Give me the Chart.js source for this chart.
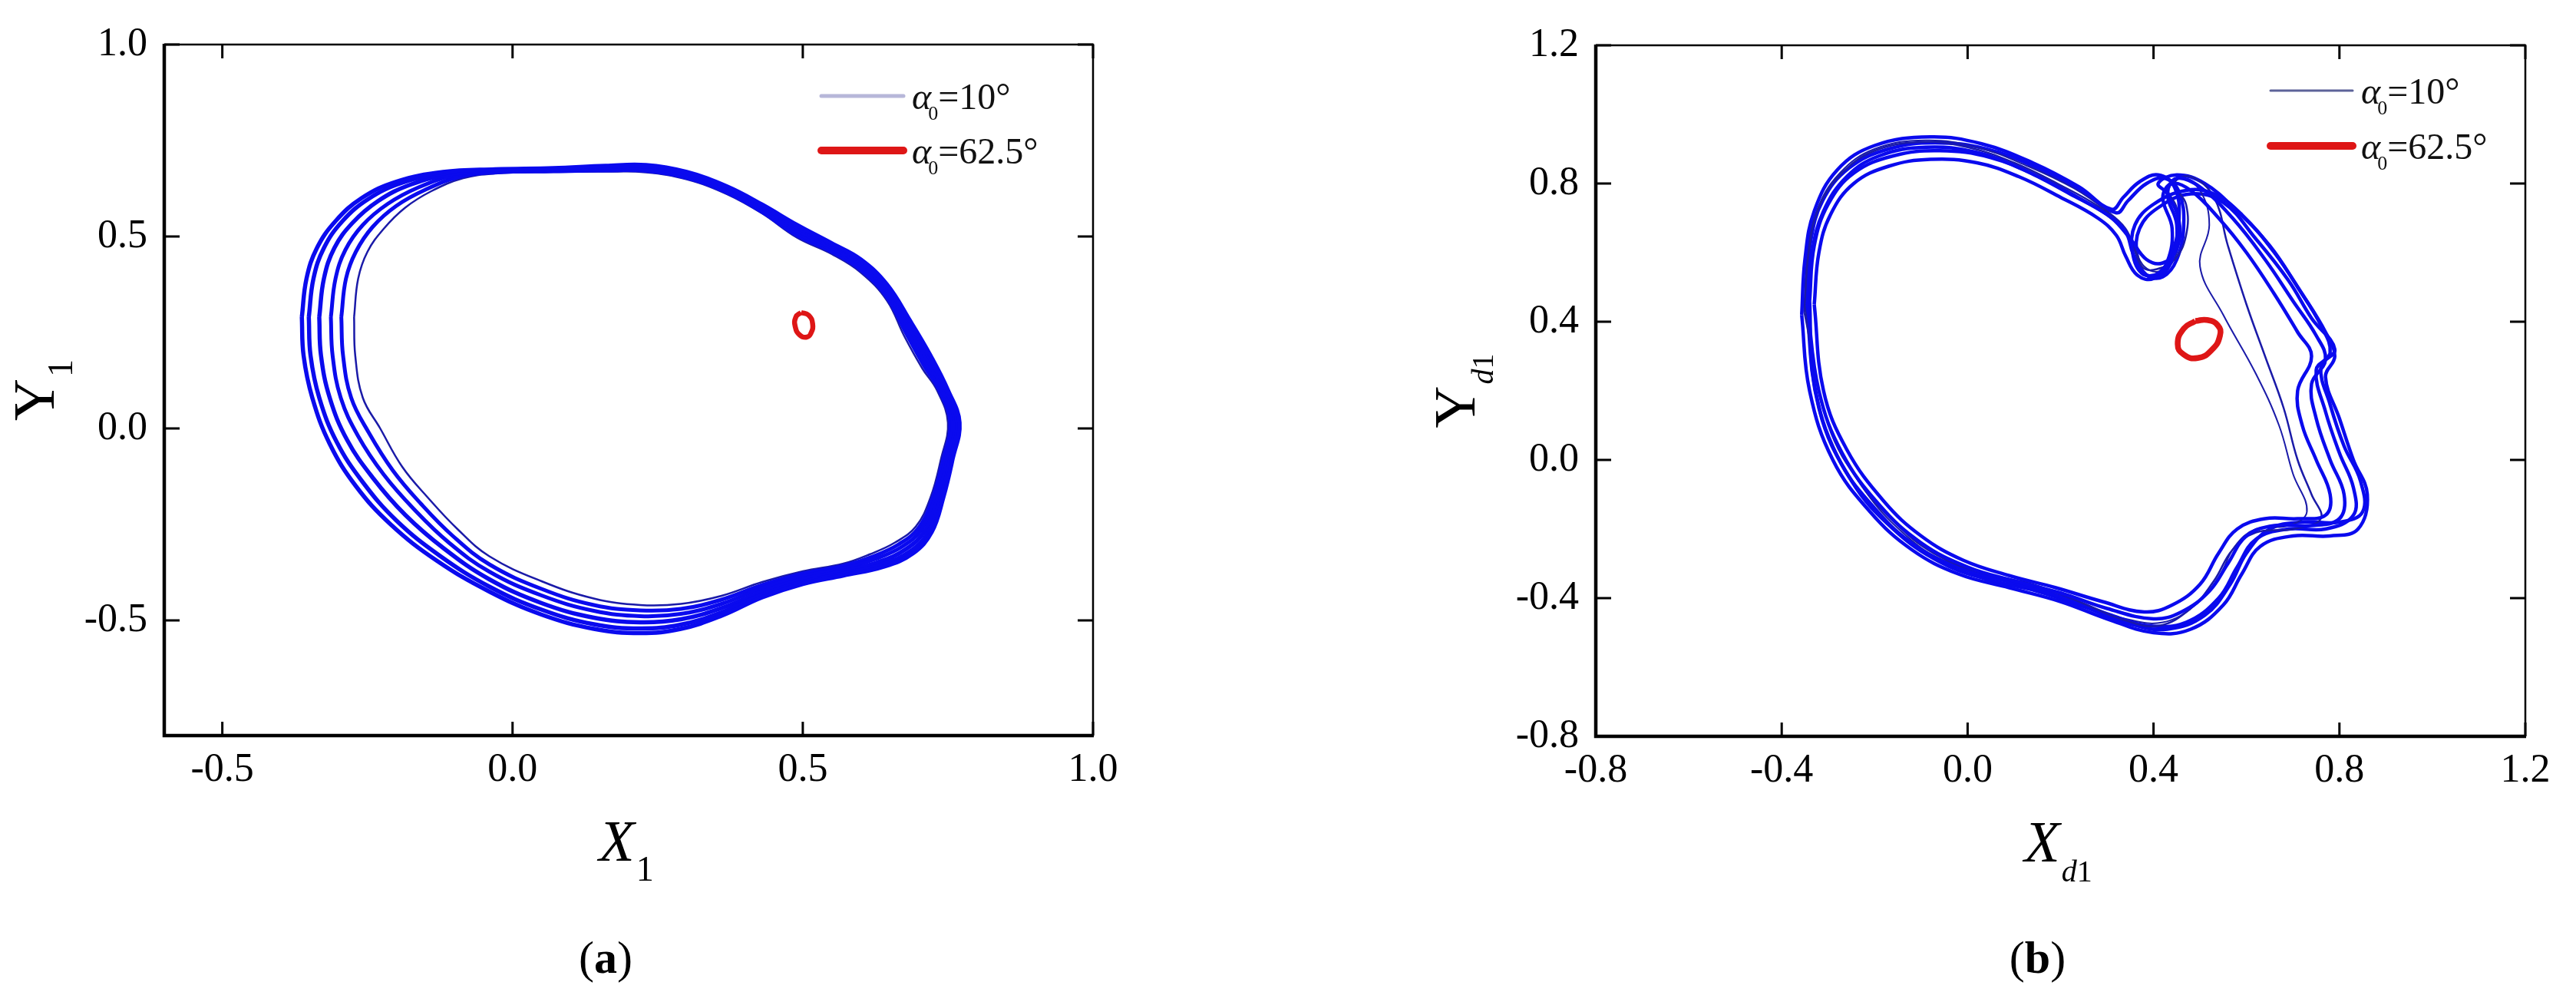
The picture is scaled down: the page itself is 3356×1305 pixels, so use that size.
<!DOCTYPE html>
<html>
<head>
<meta charset="utf-8">
<script src="https://cdn.jsdelivr.net/npm/chart.js@4.4.1/dist/chart.umd.min.js"></script>
<style>
  body { margin: 0; background: #fff; }
  #wrap { position: relative; width: 3356px; height: 1305px; }
  canvas { position: absolute; top: 0; }
  #chartA { left: 0; }
  #chartB { left: 1680px; }
</style>
</head>
<body>
<div id="wrap">
  <canvas id="chartA" width="1680" height="1305"></canvas>
  <canvas id="chartB" width="1676" height="1305"></canvas>
</div>
<script>
// ---- panel (a): X1 / Y1 ----
const ticksAx = [-0.5, 0.0, 0.5, 1.0];
const ticksAy = [-0.5, 0.0, 0.5, 1.0];

// alpha0 = 10 deg, loops (outer -> inner)
const a10Loop1 = [[-0.363,0.29],[-0.355,0.39],[-0.337,0.47],[-0.305,0.54],[-0.26,0.6],[-0.2,0.643],[-0.12,0.668],[-0.03,0.675],[0.07,0.678],[0.16,0.684],[0.23,0.686],[0.3,0.668],[0.37,0.63],[0.43,0.583],[0.49,0.53],[0.55,0.482],[0.6,0.44],[0.645,0.375],[0.685,0.28],[0.72,0.19],[0.75,0.1],[0.77,0.015],[0.758,-0.08],[0.742,-0.18],[0.722,-0.27],[0.69,-0.325],[0.64,-0.36],[0.57,-0.383],[0.5,-0.405],[0.43,-0.44],[0.36,-0.488],[0.29,-0.522],[0.22,-0.533],[0.14,-0.522],[0.05,-0.485],[-0.04,-0.425],[-0.13,-0.345],[-0.21,-0.25],[-0.27,-0.15],[-0.315,-0.04],[-0.345,0.08],[-0.36,0.19],[-0.363,0.29]];
const a10Loop2 = [[-0.351,0.29],[-0.343,0.39],[-0.325,0.47],[-0.293,0.54],[-0.248,0.598],[-0.19,0.64],[-0.113,0.666],[-0.03,0.673],[0.07,0.676],[0.16,0.681],[0.23,0.683],[0.3,0.665],[0.37,0.627],[0.43,0.579],[0.49,0.524],[0.55,0.478],[0.6,0.435],[0.645,0.369],[0.685,0.273],[0.718,0.185],[0.747,0.1],[0.766,0.015],[0.754,-0.08],[0.738,-0.18],[0.717,-0.268],[0.685,-0.32],[0.635,-0.355],[0.57,-0.378],[0.5,-0.4],[0.43,-0.433],[0.36,-0.479],[0.29,-0.511],[0.22,-0.521],[0.14,-0.51],[0.05,-0.472],[-0.04,-0.412],[-0.125,-0.332],[-0.2,-0.24],[-0.258,-0.14],[-0.303,-0.035],[-0.333,0.08],[-0.348,0.19],[-0.351,0.29]];
const a10Loop3 = [[-0.333,0.29],[-0.325,0.39],[-0.307,0.47],[-0.276,0.535],[-0.232,0.592],[-0.176,0.635],[-0.105,0.663],[-0.03,0.671],[0.07,0.674],[0.16,0.678],[0.23,0.679],[0.3,0.661],[0.37,0.623],[0.43,0.574],[0.49,0.517],[0.55,0.472],[0.6,0.428],[0.645,0.36],[0.683,0.265],[0.715,0.178],[0.743,0.1],[0.762,0.015],[0.75,-0.08],[0.733,-0.18],[0.711,-0.265],[0.678,-0.314],[0.63,-0.348],[0.57,-0.372],[0.5,-0.393],[0.43,-0.425],[0.36,-0.468],[0.29,-0.497],[0.22,-0.505],[0.14,-0.493],[0.05,-0.455],[-0.04,-0.393],[-0.118,-0.313],[-0.185,-0.225],[-0.24,-0.13],[-0.285,-0.03],[-0.315,0.08],[-0.33,0.19],[-0.333,0.29]];
const a10Loop4 = [[-0.313,0.29],[-0.305,0.39],[-0.288,0.465],[-0.258,0.53],[-0.215,0.585],[-0.162,0.628],[-0.098,0.66],[-0.03,0.669],[0.07,0.672],[0.16,0.675],[0.23,0.675],[0.3,0.657],[0.37,0.619],[0.43,0.569],[0.49,0.51],[0.55,0.466],[0.6,0.42],[0.645,0.35],[0.68,0.256],[0.712,0.17],[0.739,0.1],[0.758,0.015],[0.746,-0.08],[0.728,-0.18],[0.705,-0.262],[0.671,-0.308],[0.625,-0.34],[0.57,-0.365],[0.5,-0.385],[0.43,-0.416],[0.36,-0.457],[0.29,-0.483],[0.22,-0.489],[0.14,-0.475],[0.05,-0.435],[-0.04,-0.373],[-0.11,-0.297],[-0.17,-0.21],[-0.222,-0.12],[-0.266,-0.02],[-0.296,0.08],[-0.31,0.19],[-0.313,0.29]];
const a10Loop5 = [[-0.295,0.29],[-0.287,0.39],[-0.27,0.46],[-0.241,0.525],[-0.2,0.58],[-0.15,0.622],[-0.09,0.656],[-0.03,0.667],[0.07,0.67],[0.16,0.672],[0.23,0.671],[0.3,0.653],[0.37,0.614],[0.43,0.564],[0.49,0.503],[0.55,0.46],[0.6,0.413],[0.645,0.342],[0.678,0.248],[0.709,0.163],[0.735,0.1],[0.754,0.015],[0.742,-0.08],[0.724,-0.18],[0.7,-0.258],[0.665,-0.302],[0.62,-0.334],[0.57,-0.358],[0.5,-0.378],[0.43,-0.408],[0.36,-0.446],[0.29,-0.47],[0.22,-0.474],[0.14,-0.46],[0.05,-0.418],[-0.04,-0.354],[-0.103,-0.28],[-0.158,-0.196],[-0.206,-0.11],[-0.248,-0.01],[-0.278,0.08],[-0.292,0.19],[-0.295,0.29]];
const a10Loop6 = [[-0.273,0.29],[-0.266,0.39],[-0.25,0.46],[-0.222,0.52],[-0.185,0.575],[-0.14,0.618],[-0.085,0.652],[-0.03,0.664],[0.07,0.668],[0.16,0.669],[0.23,0.667],[0.3,0.649],[0.37,0.61],[0.43,0.56],[0.49,0.497],[0.55,0.454],[0.6,0.406],[0.645,0.333],[0.675,0.24],[0.706,0.156],[0.731,0.1],[0.75,0.015],[0.738,-0.08],[0.72,-0.18],[0.695,-0.255],[0.659,-0.297],[0.615,-0.328],[0.57,-0.352],[0.5,-0.372],[0.43,-0.4],[0.36,-0.436],[0.29,-0.457],[0.22,-0.46],[0.14,-0.443],[0.05,-0.398],[-0.04,-0.333],[-0.095,-0.262],[-0.146,-0.18],[-0.19,-0.1],[-0.228,0.0],[-0.258,0.08],[-0.271,0.19],[-0.273,0.29]];
// alpha0 = 62.5 deg
const a62Loop = [[0.497,0.302],[0.51,0.295],[0.517,0.272],[0.514,0.248],[0.507,0.238],[0.495,0.243],[0.487,0.265],[0.488,0.29],[0.497,0.302]];

// ---- panel (b): Xd1 / Yd1 ----
const ticksB = [-0.8, -0.4, 0.0, 0.4, 0.8, 1.2];

const b10Loop1 = [[-0.345,0.45],[-0.335,0.6],[-0.31,0.72],[-0.26,0.82],[-0.19,0.88],[-0.09,0.905],[0.02,0.89],[0.12,0.84],[0.22,0.77],[0.3,0.71],[0.34,0.66],[0.355,0.6],[0.375,0.545],[0.41,0.53],[0.44,0.58],[0.45,0.68],[0.43,0.77],[0.45,0.815],[0.5,0.79],[0.57,0.7],[0.64,0.58],[0.7,0.46],[0.75,0.36],[0.77,0.29],[0.74,0.22],[0.75,0.12],[0.78,0.0],[0.81,-0.1],[0.8,-0.17],[0.74,-0.19],[0.66,-0.19],[0.6,-0.22],[0.56,-0.3],[0.52,-0.38],[0.46,-0.44],[0.4,-0.46],[0.3,-0.43],[0.2,-0.385],[0.1,-0.35],[0.0,-0.31],[-0.1,-0.24],[-0.19,-0.13],[-0.27,0.02],[-0.32,0.2],[-0.345,0.45]];
const b10Loop2 = [[-0.357,0.42],[-0.35,0.58],[-0.33,0.72],[-0.28,0.84],[-0.2,0.91],[-0.08,0.935],[0.03,0.915],[0.14,0.86],[0.24,0.79],[0.31,0.725],[0.335,0.76],[0.37,0.805],[0.41,0.825],[0.445,0.79],[0.455,0.7],[0.44,0.6],[0.41,0.54],[0.375,0.54],[0.355,0.6],[0.36,0.68],[0.4,0.74],[0.47,0.78],[0.53,0.77],[0.59,0.71],[0.66,0.6],[0.72,0.48],[0.77,0.37],[0.79,0.3],[0.77,0.24],[0.8,0.12],[0.83,0.0],[0.86,-0.1],[0.84,-0.2],[0.78,-0.22],[0.7,-0.22],[0.63,-0.25],[0.59,-0.33],[0.55,-0.42],[0.48,-0.49],[0.4,-0.5],[0.3,-0.46],[0.2,-0.41],[0.09,-0.37],[-0.02,-0.33],[-0.12,-0.26],[-0.21,-0.15],[-0.29,0.0],[-0.34,0.2],[-0.357,0.42]];
const b10Loop3 = [[-0.33,0.45],[-0.32,0.6],[-0.295,0.71],[-0.245,0.8],[-0.17,0.85],[-0.08,0.87],[0.02,0.86],[0.11,0.82],[0.2,0.76],[0.28,0.7],[0.32,0.65],[0.34,0.59],[0.365,0.535],[0.4,0.525],[0.43,0.575],[0.44,0.67],[0.42,0.76],[0.44,0.8],[0.48,0.78],[0.54,0.7],[0.6,0.6],[0.66,0.48],[0.71,0.37],[0.74,0.3],[0.71,0.2],[0.72,0.1],[0.75,0.0],[0.78,-0.1],[0.77,-0.16],[0.71,-0.17],[0.64,-0.17],[0.58,-0.2],[0.54,-0.27],[0.5,-0.36],[0.44,-0.42],[0.38,-0.44],[0.29,-0.41],[0.19,-0.37],[0.09,-0.335],[-0.01,-0.29],[-0.1,-0.22],[-0.18,-0.12],[-0.26,0.03],[-0.31,0.2],[-0.33,0.45]];
const b10Loop4 = [[-0.35,0.44],[-0.342,0.6],[-0.32,0.73],[-0.27,0.83],[-0.2,0.895],[-0.1,0.92],[0.0,0.905],[0.1,0.86],[0.2,0.795],[0.28,0.735],[0.33,0.68],[0.355,0.62],[0.375,0.56],[0.4,0.55],[0.445,0.58],[0.47,0.65],[0.47,0.74],[0.445,0.8],[0.48,0.82],[0.53,0.76],[0.56,0.62],[0.6,0.45],[0.64,0.3],[0.68,0.15],[0.71,0.0],[0.74,-0.1],[0.76,-0.17],[0.7,-0.2],[0.62,-0.21],[0.57,-0.26],[0.53,-0.35],[0.48,-0.43],[0.41,-0.48],[0.33,-0.46],[0.24,-0.41],[0.14,-0.36],[0.04,-0.33],[-0.06,-0.28],[-0.15,-0.19],[-0.24,-0.05],[-0.31,0.15],[-0.35,0.44]];
const b10Loop5 = [[-0.34,0.46],[-0.33,0.62],[-0.3,0.74],[-0.245,0.83],[-0.16,0.88],[-0.06,0.895],[0.05,0.875],[0.16,0.815],[0.25,0.75],[0.31,0.7],[0.35,0.64],[0.385,0.58],[0.42,0.57],[0.45,0.61],[0.455,0.69],[0.43,0.77],[0.41,0.8],[0.45,0.825],[0.51,0.8],[0.58,0.72],[0.65,0.62],[0.71,0.5],[0.76,0.39],[0.78,0.31],[0.75,0.26],[0.77,0.14],[0.8,0.02],[0.83,-0.08],[0.83,-0.16],[0.77,-0.2],[0.69,-0.2],[0.62,-0.23],[0.58,-0.31],[0.54,-0.4],[0.47,-0.47],[0.39,-0.48],[0.31,-0.45],[0.21,-0.4],[0.11,-0.36],[0.0,-0.32],[-0.11,-0.25],[-0.2,-0.14],[-0.28,0.01],[-0.33,0.22],[-0.34,0.46]];
const b10Loop6 = [[-0.352,0.43],[-0.345,0.59],[-0.325,0.72],[-0.275,0.83],[-0.2,0.9],[-0.09,0.925],[0.02,0.905],[0.13,0.85],[0.23,0.785],[0.3,0.72],[0.34,0.67],[0.36,0.61],[0.38,0.56],[0.41,0.545],[0.44,0.57],[0.455,0.64],[0.45,0.73],[0.43,0.79],[0.46,0.815],[0.5,0.78],[0.52,0.68],[0.5,0.56],[0.55,0.42],[0.62,0.25],[0.67,0.1],[0.7,-0.04],[0.73,-0.15],[0.69,-0.19],[0.62,-0.2],[0.575,-0.25],[0.54,-0.34],[0.49,-0.42],[0.42,-0.47],[0.34,-0.46],[0.25,-0.42],[0.15,-0.37],[0.05,-0.34],[-0.05,-0.295],[-0.14,-0.21],[-0.22,-0.09],[-0.3,0.1],[-0.352,0.43]];
const b10Loop7 = [[-0.348,0.47],[-0.338,0.63],[-0.312,0.75],[-0.255,0.845],[-0.17,0.9],[-0.07,0.918],[0.04,0.9],[0.15,0.845],[0.25,0.775],[0.32,0.715],[0.345,0.75],[0.385,0.8],[0.425,0.815],[0.455,0.775],[0.465,0.68],[0.45,0.58],[0.42,0.53],[0.385,0.535],[0.365,0.59],[0.37,0.67],[0.41,0.73],[0.48,0.77],[0.55,0.745],[0.62,0.64],[0.69,0.52],[0.74,0.41],[0.79,0.32],[0.76,0.27],[0.78,0.16],[0.81,0.04],[0.845,-0.06],[0.85,-0.15],[0.8,-0.18],[0.72,-0.18],[0.65,-0.2],[0.6,-0.27],[0.565,-0.36],[0.51,-0.45],[0.43,-0.49],[0.35,-0.475],[0.25,-0.425],[0.15,-0.38],[0.04,-0.345],[-0.06,-0.295],[-0.16,-0.2],[-0.25,-0.06],[-0.32,0.15],[-0.348,0.47]];
const b62Loop = [[0.49,0.402],[0.515,0.405],[0.538,0.39],[0.543,0.36],[0.525,0.318],[0.495,0.295],[0.465,0.305],[0.452,0.335],[0.465,0.38],[0.49,0.402]];

const BLUE = '#0a0aee';
const DARKBLUE = '#1a1aa8';
const RED = '#de1616';

function toPoints(loop) {
  return loop.map(p => ({ x: p[0], y: p[1] }));
}

function lineSet(loop, color, width, tension) {
  return {
    data: toPoints(loop),
    showLine: true,
    borderColor: color,
    borderWidth: width,
    pointRadius: 0,
    tension: tension,
    fill: false
  };
}

// draws text pieces one after another, parts = [[text, italic, size, dx, dy], ...]
function drawParts(ctx, parts, x, y) {
  let cx = x;
  parts.forEach(p => {
    ctx.font = (p[1] ? 'italic ' : '') + p[2] + 'px "Liberation Serif"';
    ctx.fillText(p[0], cx + (p[3] || 0), y + (p[4] || 0));
    cx += ctx.measureText(p[0]).width + (p[3] || 0);
  });
}

function partsWidth(ctx, parts) {
  let w = 0;
  parts.forEach(p => {
    ctx.font = (p[1] ? 'italic ' : '') + p[2] + 'px "Liberation Serif"';
    w += ctx.measureText(p[0]).width + (p[3] || 0);
  });
  return w;
}

const framePlugin = {
  id: 'frame',
  afterDraw(chart, args, o) {
    const ctx = chart.ctx;
    const a = chart.chartArea;
    const sx = chart.scales.x, sy = chart.scales.y;
    ctx.save();
    ctx.strokeStyle = '#000';
    ctx.fillStyle = '#000';

    // inward ticks on all four sides
    ctx.lineWidth = 3;
    ctx.beginPath();
    sx.ticks.forEach(t => {
      const px = sx.getPixelForValue(t.value);
      ctx.moveTo(px, a.bottom); ctx.lineTo(px, a.bottom - 18);
      ctx.moveTo(px, a.top); ctx.lineTo(px, a.top + 18);
    });
    sy.ticks.forEach(t => {
      const py = sy.getPixelForValue(t.value);
      ctx.moveTo(a.left, py); ctx.lineTo(a.left + 20, py);
      ctx.moveTo(a.right, py); ctx.lineTo(a.right - 20, py);
    });
    ctx.stroke();

    // frame: thin top/right, heavier left/bottom
    ctx.lineWidth = 2.5;
    ctx.beginPath();
    ctx.moveTo(a.left, a.top); ctx.lineTo(a.right, a.top); ctx.lineTo(a.right, a.bottom);
    ctx.stroke();
    ctx.lineWidth = 4.5;
    ctx.beginPath();
    ctx.moveTo(a.left, a.top - 1); ctx.lineTo(a.left, a.bottom); ctx.lineTo(a.right + 1, a.bottom);
    ctx.stroke();

    // legend inside the plot
    ctx.textBaseline = 'alphabetic';
    ctx.textAlign = 'left';
    o.legend.forEach((item, i) => {
      const y = a.top + o.legendTop + i * o.legendGap;
      const x0 = a.right - o.legendRight;
      ctx.strokeStyle = item.color;
      ctx.lineWidth = item.width;
      ctx.lineCap = 'round';
      ctx.beginPath();
      ctx.moveTo(x0, y); ctx.lineTo(x0 + 107, y);
      ctx.stroke();
      ctx.fillStyle = '#111';
      const tx = x0 + 118;
      ctx.font = 'italic 48px "Liberation Serif"';
      const wa = ctx.measureText('α').width;
      ctx.fillText('α', tx, y + 17);
      ctx.font = '26px "Liberation Serif"';
      ctx.fillText('0', tx + wa - 4, y + 31);
      ctx.font = '48px "Liberation Serif"';
      ctx.fillText('=' + item.label, tx + wa + 9, y + 17);
    });

    // axis titles
    ctx.fillStyle = '#000';
    const xw = partsWidth(ctx, o.xTitle);
    drawParts(ctx, o.xTitle, (a.left + a.right) / 2 - 3 - xw / 2, a.bottom + 163);
    ctx.save();
    ctx.translate(a.left - o.yTitleGap, (a.top + a.bottom) / 2);
    ctx.rotate(-Math.PI / 2);
    const yw = partsWidth(ctx, o.yTitle);
    drawParts(ctx, o.yTitle, -yw / 2, 0);
    ctx.restore();

    // panel caption "(a)" / "(b)" with a bold letter
    ctx.font = '60px "Liberation Serif"';
    const wp = ctx.measureText('(').width;
    ctx.font = 'bold 60px "Liberation Serif"';
    const wl = ctx.measureText(o.caption).width;
    const cx = (a.left + a.right) / 2 - 30 - (2 * wp + wl) / 2;
    ctx.font = '60px "Liberation Serif"';
    ctx.fillText('(', cx, 1267);
    ctx.font = 'bold 60px "Liberation Serif"';
    ctx.fillText(o.caption, cx + wp, 1267);
    ctx.font = '60px "Liberation Serif"';
    ctx.fillText(')', cx + wp + wl, 1267);

    ctx.restore();
  }
};

function axisOpts(min, max, tickList, isX) {
  return {
    type: 'linear',
    position: isX ? 'bottom' : 'left',
    min: min,
    max: max,
    grid: { display: false, drawTicks: false },
    border: { display: false },
    afterBuildTicks: s => { s.ticks = tickList.map(v => ({ value: v })); },
    afterFit: s => { if (isX) s.height = 100; else s.width = 150; },
    ticks: {
      color: '#000',
      padding: isX ? 14 : 22,
      font: { family: 'Liberation Serif', size: 52 },
      callback: v => Number(v).toFixed(1)
    }
  };
}

function makeChart(id, cfg) {
  return new Chart(document.getElementById(id), {
    type: 'scatter',
    data: { datasets: cfg.datasets },
    options: {
      responsive: false,
      animation: false,
      devicePixelRatio: 1,
      layout: { padding: cfg.padding },
      scales: {
        x: axisOpts(cfg.xMin, cfg.xMax, cfg.xTicks, true),
        y: axisOpts(cfg.yMin, cfg.yMax, cfg.yTicks, false)
      },
      plugins: {
        legend: { display: false },
        tooltip: { enabled: false },
        frame: cfg.frame
      }
    },
    plugins: [framePlugin]
  });
}

makeChart('chartA', {
  padding: { left: 64, right: 256, top: 58, bottom: 247 },
  xMin: -0.6, xMax: 1.0, yMin: -0.8, yMax: 1.0,
  xTicks: ticksAx, yTicks: ticksAy,
  datasets: [
    lineSet(a10Loop1, BLUE, 5.5, 0.4),
    lineSet(a10Loop2, BLUE, 5.5, 0.4),
    lineSet(a10Loop3, BLUE, 5.5, 0.4),
    lineSet(a10Loop4, BLUE, 5, 0.4),
    lineSet(a10Loop5, BLUE, 5, 0.4),
    lineSet(a10Loop6, DARKBLUE, 2.5, 0.4),
    lineSet(a62Loop, RED, 6.5, 0.5)
  ],
  frame: {
    caption: 'a',
    xTitle: [['X', true, 76], ['1', false, 46, 2, 26]],
    yTitle: [['Y', false, 76], ['1', false, 46, 2, 24]],
    yTitleGap: 144,
    legendTop: 67, legendGap: 71, legendRight: 354,
    legend: [
      { label: '10°', color: '#b7b7d9', width: 5 },
      { label: '62.5°', color: RED, width: 10 }
    ]
  }
});

makeChart('chartB', {
  padding: { left: 249, right: 66, top: 59, bottom: 246 },
  xMin: -0.8, xMax: 1.2, yMin: -0.8, yMax: 1.2,
  xTicks: ticksB, yTicks: ticksB,
  datasets: [
    lineSet(b10Loop1, BLUE, 4.5, 0.4),
    lineSet(b10Loop2, BLUE, 4.5, 0.4),
    lineSet(b10Loop3, BLUE, 4.5, 0.4),
    lineSet(b10Loop4, DARKBLUE, 2.5, 0.4),
    lineSet(b10Loop5, BLUE, 4.5, 0.4),
    lineSet(b10Loop6, DARKBLUE, 2, 0.4),
    lineSet(b10Loop7, BLUE, 4.5, 0.4),
    lineSet(b62Loop, RED, 7.5, 0.5)
  ],
  frame: {
    caption: 'b',
    xTitle: [['X', true, 76], ['d', true, 40, 2, 26], ['1', false, 40, 0, 26]],
    yTitle: [['Y', false, 76], ['d', true, 40, 2, 24], ['1', false, 40, 0, 24]],
    yTitleGap: 158,
    legendTop: 59, legendGap: 72, legendRight: 332,
    legend: [
      { label: '10°', color: '#5d6399', width: 3 },
      { label: '62.5°', color: RED, width: 10 }
    ]
  }
});
</script>
</body>
</html>
